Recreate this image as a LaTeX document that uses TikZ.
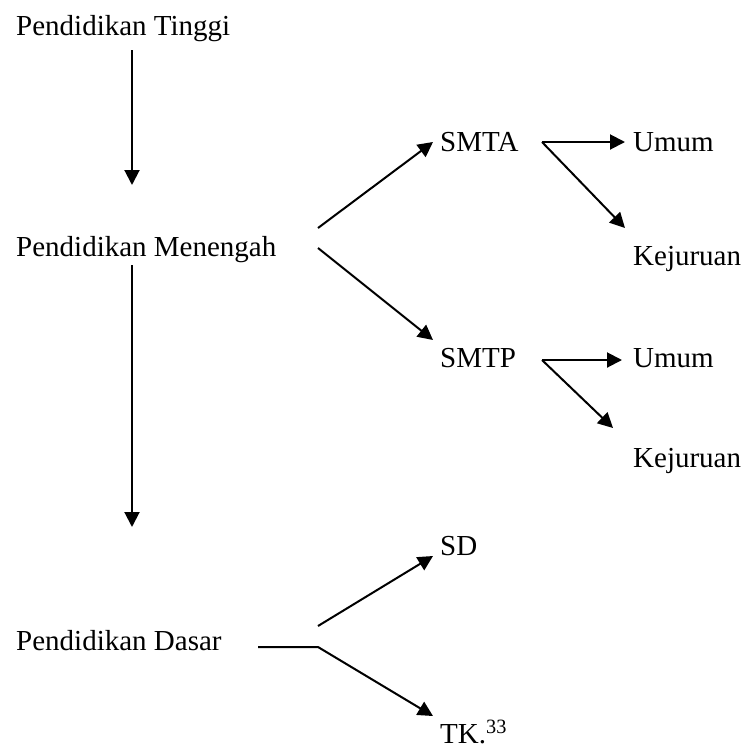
\documentclass[tikz,border=0pt]{standalone}
\usepackage{fontspec}
\setmainfont{Liberation Serif}
\usetikzlibrary{arrows.meta}
\begin{document}
\begin{tikzpicture}[x=1pt,y=-1pt,
  lbl/.style={anchor=base west, inner sep=0pt, font=\fontsize{29}{34}\selectfont},
  conn/.style={line width=2pt},
  arr/.style={conn, -{Triangle[length=15pt,width=15pt]}}]
\useasboundingbox (0,0) rectangle (743,748);
% texts
\node[lbl] (pt)   at (16,35)   {Pendidikan Tinggi};
\node[lbl] (pm)   at (16,256)  {Pendidikan Menengah};
\node[lbl] (pd)   at (16,650)  {Pendidikan Dasar};
\node[lbl] (smta) at (440,151) {SMTA};
\node[lbl] (u1)   at (633,151) {Umum};
\node[lbl] (k1)   at (633,265) {Kejuruan};
\node[lbl] (smtp) at (440,367) {SMTP};
\node[lbl] (u2)   at (633,367) {Umum};
\node[lbl] (k2)   at (633,467) {Kejuruan};
\node[lbl] (sd)   at (440,555) {SD};
\node[lbl] (tk)   at (440,743) {TK.\textsuperscript{33}};
% connector end points
\coordinate (v1s) at (132,50);
\coordinate (v1e) at (132,185);
\coordinate (v2s) at (132,265);
\coordinate (v2e) at (132,527);
\coordinate (pmA) at (318,228);
\coordinate (pmAe) at (433,142);
\coordinate (pmP) at (318,248);
\coordinate (pmPe) at (433,340);
\coordinate (sa) at (542,142);
\coordinate (sau) at (625,142);
\coordinate (sak) at (625,228);
\coordinate (sp) at (542,360);
\coordinate (spu) at (622,360);
\coordinate (spk) at (613,428);
\coordinate (pdL) at (258,647);
\coordinate (pdR) at (318,647);
\coordinate (pdU) at (318,626);
\coordinate (sde) at (433,556);
\coordinate (tke) at (433,716);
% connectors
\draw[arr] (v1s) -- (v1e);
\draw[arr] (v2s) -- (v2e);
\draw[arr] (pmA) -- (pmAe);
\draw[arr] (pmP) -- (pmPe);
\draw[arr] (sa) -- (sau);
\draw[arr] (sa) -- (sak);
\draw[arr] (sp) -- (spu);
\draw[arr] (sp) -- (spk);
\draw[arr] (pdL) -- (pdR) -- (tke);
\draw[arr] (pdU) -- (sde);
\end{tikzpicture}
\end{document}
